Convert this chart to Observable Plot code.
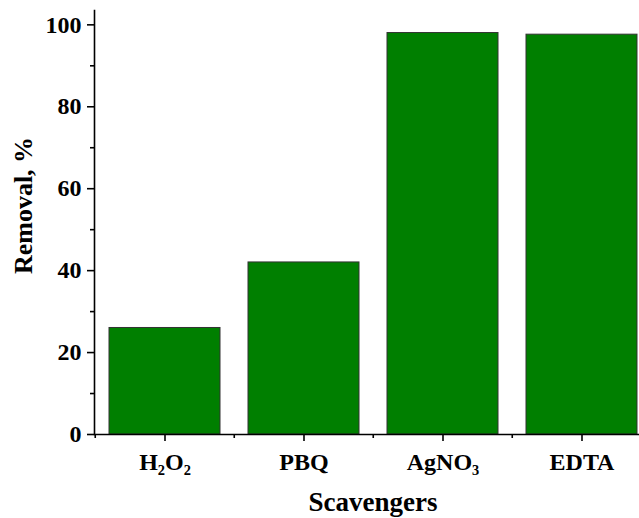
<!DOCTYPE html>
<html>
<head>
<meta charset="utf-8">
<script src="https://cdn.jsdelivr.net/npm/d3@7"></script>
<script src="https://cdn.jsdelivr.net/npm/@observablehq/plot@0.6"></script>
<style>
  html, body { margin: 0; padding: 0; background: white; overflow: hidden; }
  #chart svg { display: block; }
</style>
</head>
<body>
<div id="chart"></div>
<script>
const categories = ["H\u2082O\u2082", "PBQ", "AgNO\u2083", "EDTA"];
const removal = [26.0, 42.0, 98.0, 97.6];
const yMajorTicks = [0, 20, 40, 60, 80, 100];
const yMinorTicks = [10, 30, 50, 70, 90];
const xTitle = "Scavengers";
const yTitle = "Removal, %";

const data = categories.map((c, i) => ({ cat: c, value: removal[i] }));

const W = 639, H = 518;
const xRange = [94, 652];
const halfStep = (xRange[1] - xRange[0]) / categories.length / 2;
const font = "'Liberation Serif', 'Times New Roman', serif";

const chart = Plot.plot({
  width: W,
  height: H,
  marginLeft: 94,
  marginRight: 0,
  marginTop: 10,
  marginBottom: 84,
  style: { fontFamily: font, fontWeight: "bold", background: "white", color: "black" },
  x: { type: "band", domain: categories, range: xRange, paddingInner: 0.2, paddingOuter: 0.1 },
  y: { domain: [0, 103.5] },
  marks: [
    Plot.barY(data, { x: "cat", y: "value", fill: "#007f00", stroke: "#333", strokeWidth: 1 }),
    Plot.frame({ anchor: "left", stroke: "black", strokeWidth: 1.6 }),
    Plot.ruleY([0], { stroke: "black", strokeWidth: 1.6 }),
    Plot.axisY({ ticks: yMajorTicks, tickSize: 7, tickPadding: 6, fontSize: 24, label: null, strokeWidth: 1.6 }),
    Plot.axisY({ ticks: yMinorTicks, tickSize: 4, text: null, label: null, strokeWidth: 1.6 }),
    Plot.axisX({ ticks: categories, tickSize: 7, tickPadding: 11, fontSize: 24, label: null, strokeWidth: 1.6 }),
    Plot.axisX({ ticks: categories, tickSize: 4, text: null, label: null, dx: -halfStep, strokeWidth: 1.6 }),
    Plot.text([xTitle], { frameAnchor: "bottom", dx: 6, dy: 76, fontSize: 27, fontWeight: "bold" }),
    Plot.text([yTitle], { frameAnchor: "left", textAnchor: "middle", rotate: -90, dx: -71, dy: -17, fontSize: 26, fontWeight: "bold" })
  ]
});
document.getElementById("chart").appendChild(chart);
</script>
</body>
</html>
